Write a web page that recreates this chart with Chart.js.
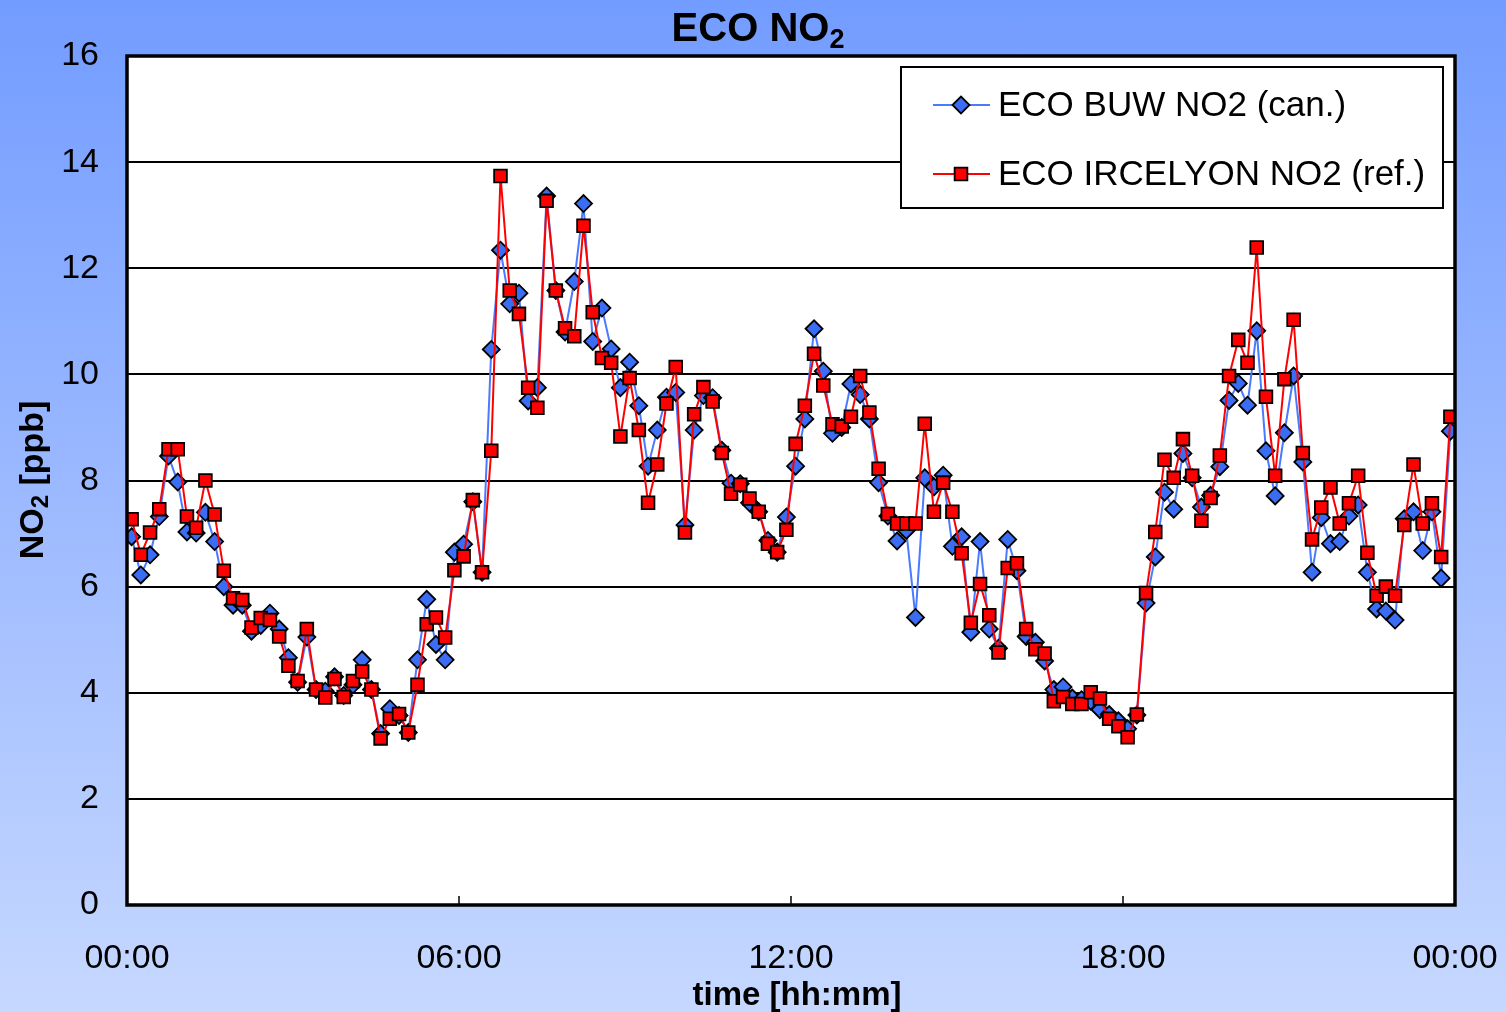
<!DOCTYPE html>
<html>
<head>
<meta charset="utf-8">
<title>ECO NO2</title>
<script src="https://cdn.jsdelivr.net/npm/chart.js@4"></script>
<style>
    html, body { margin: 0; padding: 0; }
    body {
        width: 1506px;
        height: 1012px;
        overflow: hidden;
        background: linear-gradient(to bottom, #729cff 0%, #9dbaff 50%, #c6d8ff 100%);
    }
    #wrap { position: relative; width: 1506px; height: 1012px; }
</style>
</head>
<body>
<div id="wrap"><canvas id="no2Chart" width="1506" height="1012"></canvas></div>
<script>
// ------------------ DATA ------------------
// 10-minute values, first sample at 00:05
const SAMPLE_START_MIN = 5;
const SAMPLE_STEP_MIN = 10;

const buwNO2 = [
    6.94, 6.22, 6.60, 7.32, 8.46, 7.97, 7.03, 7.01, 7.40, 6.85, 6.00, 5.65,
    5.65, 5.16, 5.27, 5.50, 5.20, 4.66, 4.20, 5.05, 4.06, 4.03, 4.30, 3.95,
    4.15, 4.62, 4.06, 3.23, 3.70, 3.57, 3.25, 4.62, 5.76, 4.91, 4.62, 6.65,
    6.80, 7.60, 6.27, 10.47, 12.34, 11.33, 11.53, 9.50, 9.75, 13.36, 11.58, 10.80,
    11.75, 13.22, 10.62, 11.25, 10.48, 9.75, 10.23, 9.41, 8.27, 8.95, 9.57, 9.66,
    7.16, 8.95, 9.60, 9.56, 8.57, 7.95, 7.94, 7.58, 7.41, 6.87, 6.65, 7.31,
    8.27, 9.16, 10.86, 10.06, 8.89, 9.00, 9.82, 9.62, 9.16, 7.96, 7.33, 6.86,
    7.06, 5.42, 8.05, 7.88, 8.10, 6.76, 6.94, 5.14, 6.85, 5.20, 4.84, 6.89,
    6.30, 5.06, 4.95, 4.60, 4.06, 4.11, 3.90, 3.87, 3.84, 3.68, 3.59, 3.47,
    3.32, 3.58, 5.69, 6.56, 7.78, 7.46, 8.51, 8.05, 7.50, 7.72, 8.26, 9.51,
    9.83, 9.42, 10.82, 8.56, 7.71, 8.90, 9.97, 8.35, 6.27, 7.30, 6.81, 6.85,
    7.33, 7.54, 6.27, 5.58, 5.54, 5.37, 7.28, 7.41, 6.68, 7.41, 6.16, 8.93
];

const ircelyonNO2 = [
    7.27, 6.60, 7.02, 7.46, 8.59, 8.59, 7.32, 7.11, 8.00, 7.36, 6.30, 5.78,
    5.75, 5.23, 5.41, 5.37, 5.06, 4.51, 4.22, 5.20, 4.06, 3.91, 4.26, 3.92,
    4.22, 4.40, 4.06, 3.14, 3.51, 3.60, 3.25, 4.15, 5.29, 5.42, 5.04, 6.31,
    6.57, 7.63, 6.27, 8.56, 13.74, 11.58, 11.14, 9.75, 9.37, 13.27, 11.58, 10.87,
    10.72, 12.80, 11.17, 10.31, 10.22, 8.83, 9.93, 8.95, 7.58, 8.30, 9.45, 10.14,
    7.02, 9.25, 9.76, 9.49, 8.52, 7.75, 7.92, 7.66, 7.41, 6.81, 6.65, 7.07,
    8.69, 9.41, 10.39, 9.79, 9.06, 9.02, 9.20, 9.97, 9.28, 8.22, 7.37, 7.19,
    7.19, 7.19, 9.07, 7.41, 7.96, 7.41, 6.63, 5.32, 6.05, 5.46, 4.76, 6.35,
    6.44, 5.20, 4.82, 4.74, 3.84, 3.92, 3.79, 3.79, 4.01, 3.89, 3.51, 3.37,
    3.16, 3.59, 5.88, 7.03, 8.39, 8.05, 8.78, 8.09, 7.24, 7.67, 8.47, 9.97,
    10.65, 10.22, 12.39, 9.58, 8.09, 9.91, 11.03, 8.52, 6.89, 7.49, 7.87, 7.19,
    7.57, 8.09, 6.64, 5.83, 6.00, 5.83, 7.16, 8.30, 7.19, 7.57, 6.56, 9.20
];

const xTickLabels = ['00:00', '06:00', '12:00', '18:00', '00:00'];
const xTickMinutes = [0, 360, 720, 1080, 1440];
const seriesNames = ['ECO BUW NO2 (can.)', 'ECO IRCELYON NO2 (ref.)'];

const sampleTimes = buwNO2.map((_, i) => SAMPLE_START_MIN + i * SAMPLE_STEP_MIN);
const toPoints = (vals) => vals.map((v, i) => ({ x: sampleTimes[i], y: v }));

const FONT = '"Liberation Sans", Arial, sans-serif';

// ------------------ PLUGINS ------------------
const plotFrame = {
    id: 'plotFrame',
    beforeDraw(chart) {
        const { ctx, chartArea: a } = chart;
        ctx.save();
        ctx.fillStyle = '#ffffff';
        ctx.fillRect(a.left, a.top, a.right - a.left, a.bottom - a.top);
        ctx.restore();
    },
    beforeDatasetsDraw(chart) {
        // small inside tick marks on the time axis
        const { ctx, chartArea: a, scales } = chart;
        ctx.save();
        ctx.strokeStyle = '#000';
        ctx.lineWidth = 1.5;
        xTickMinutes.slice(1, -1).forEach(m => {
            const px = scales.x.getPixelForValue(m);
            ctx.beginPath();
            ctx.moveTo(px, a.bottom);
            ctx.lineTo(px, a.bottom - 9);
            ctx.stroke();
        });
        ctx.restore();
    },
    afterDatasetsDraw(chart) {
        const { ctx, chartArea: a } = chart;
        ctx.save();
        ctx.strokeStyle = '#000';
        ctx.lineWidth = 3.5;
        ctx.strokeRect(a.left, a.top, a.right - a.left, a.bottom - a.top);
        ctx.restore();
    }
};

function drawSubText(ctx, parts, x, y, align) {
    // parts: [text, size, dy]
    let total = 0;
    parts.forEach(p => {
        ctx.font = 'bold ' + p[1] + 'px ' + FONT;
        total += ctx.measureText(p[0]).width;
    });
    let cx = align === 'center' ? x - total / 2 : x;
    parts.forEach(p => {
        ctx.font = 'bold ' + p[1] + 'px ' + FONT;
        ctx.fillText(p[0], cx, y + p[2]);
        cx += ctx.measureText(p[0]).width;
    });
}

const titles = {
    id: 'titles',
    afterDraw(chart) {
        const { ctx } = chart;
        ctx.save();
        ctx.fillStyle = '#000';
        ctx.textBaseline = 'alphabetic';
        ctx.textAlign = 'left';
        // chart title
        drawSubText(ctx, [['ECO NO', 40, 0], ['2', 27, 7]], 758, 41, 'center');
        // y axis title
        ctx.save();
        ctx.translate(43, 480);
        ctx.rotate(-Math.PI / 2);
        drawSubText(ctx, [['NO', 34, 0], ['2', 24, 5], [' [ppb]', 34, 0]], 0, 0, 'center');
        ctx.restore();
        // x axis title
        drawSubText(ctx, [['time [hh:mm]', 33, 0]], 797, 1005, 'center');
        ctx.restore();
    }
};

const boxLegend = {
    id: 'boxLegend',
    afterDraw(chart) {
        const { ctx } = chart;
        const box = { x: 901, y: 67, w: 542, h: 141 };
        ctx.save();
        ctx.fillStyle = '#fff';
        ctx.fillRect(box.x, box.y, box.w, box.h);
        ctx.strokeStyle = '#000';
        ctx.lineWidth = 2;
        ctx.strokeRect(box.x, box.y, box.w, box.h);

        const rows = [105, 174];
        chart.data.datasets.forEach((ds, i) => {
            const y = rows[i];
            ctx.strokeStyle = ds.borderColor;
            ctx.lineWidth = ds.borderWidth;
            ctx.beginPath();
            ctx.moveTo(933, y);
            ctx.lineTo(990, y);
            ctx.stroke();
            ctx.fillStyle = ds.pointBackgroundColor;
            ctx.strokeStyle = ds.pointBorderColor;
            ctx.lineWidth = ds.pointBorderWidth;
            Chart.helpers.drawPoint(ctx, {
                pointStyle: ds.pointStyle,
                radius: ds.pointRadius,
                borderWidth: ds.pointBorderWidth,
                rotation: 0
            }, 961, y);
            ctx.fillStyle = '#000';
            ctx.font = '35px ' + FONT;
            ctx.textBaseline = 'middle';
            ctx.fillText(seriesNames[i], 998, y + 1);
        });
        ctx.restore();
    }
};

// ------------------ CHART ------------------
function initChart() {
    const ctx = document.getElementById('no2Chart').getContext('2d');
    new Chart(ctx, {
        type: 'line',
        data: {
            datasets: [
                {
                    label: seriesNames[0],
                    data: toPoints(buwNO2),
                    borderColor: '#4a7bff',
                    borderWidth: 2,
                    pointStyle: 'rectRot',
                    pointRadius: 8.5,
                    pointBackgroundColor: '#3a6cf4',
                    pointBorderColor: '#000',
                    pointBorderWidth: 1.8,
                    tension: 0,
                    order: 1
                },
                {
                    label: seriesNames[1],
                    data: toPoints(ircelyonNO2),
                    borderColor: '#ff0000',
                    borderWidth: 2,
                    pointStyle: 'rect',
                    pointRadius: 9,
                    pointBackgroundColor: '#ff0000',
                    pointBorderColor: '#000',
                    pointBorderWidth: 1.8,
                    tension: 0,
                    order: 0
                }
            ]
        },
        options: {
            responsive: false,
            animation: false,
            layout: { padding: { left: 0, top: 56, right: 51, bottom: 0 } },
            plugins: {
                legend: { display: false },
                title: { display: false },
                tooltip: { enabled: false }
            },
            scales: {
                x: {
                    type: 'linear',
                    min: 0,
                    max: 1440,
                    afterBuildTicks: (scale) => {
                        scale.ticks = xTickMinutes.map(v => ({ value: v }));
                    },
                    afterFit: (scale) => {
                        scale.height = 107;
                        scale.paddingLeft = 0;
                        scale.paddingRight = 0;
                    },
                    ticks: {
                        color: '#000',
                        font: { family: FONT, size: 34 },
                        padding: 33,
                        maxRotation: 0,
                        autoSkip: false,
                        callback: (v) => xTickLabels[xTickMinutes.indexOf(v)]
                    },
                    grid: { display: false, drawTicks: false },
                    border: { display: false }
                },
                y: {
                    min: 0,
                    max: 16,
                    afterFit: (scale) => {
                        scale.width = 127;
                        scale.paddingTop = 0;
                        scale.paddingBottom = 0;
                    },
                    ticks: {
                        stepSize: 2,
                        color: '#000',
                        font: { family: FONT, size: 34 },
                        padding: 28
                    },
                    grid: { color: '#000', lineWidth: 2, drawTicks: false },
                    border: { display: false }
                }
            }
        },
        plugins: [plotFrame, titles, boxLegend]
    });
}

document.addEventListener('DOMContentLoaded', initChart);
</script>
</body>
</html>
